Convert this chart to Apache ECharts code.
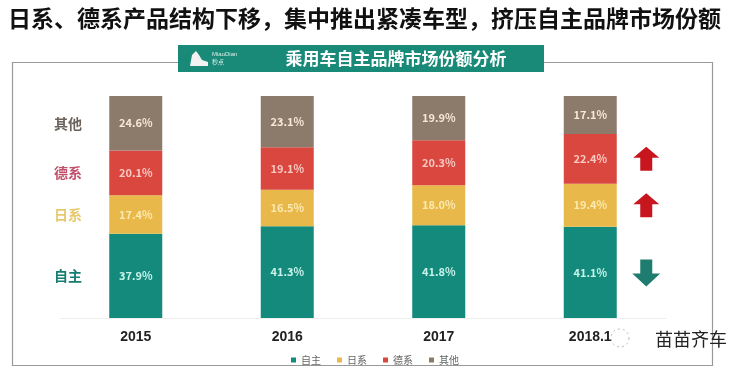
<!DOCTYPE html>
<html><head><meta charset="utf-8">
<script src="https://cdn.jsdelivr.net/npm/echarts@6/dist/echarts.min.js"></script>
<style>html,body{margin:0;padding:0;background:#fff}#c{width:750px;height:374px}</style>
</head><body><div id="c"></div>
<script>
var categories = ['2015', '2016', '2017', '2018.1'];
var seriesNames = ['自主', '日系', '德系', '其他'];
var ziZhu = [37.9, 41.3, 41.8, 41.1];
var riXi = [17.4, 16.5, 18.0, 19.4];
var deXi = [20.1, 19.1, 20.3, 22.4];
var qiTa = [24.6, 23.1, 19.9, 17.1];
var trendArrows = ['down', 'up', 'up', null]; // per series, last period
var mainTitle = '日系、德系产品结构下移，集中推出紧凑车型，挤压自主品牌市场份额';
var panelTitle = '乘用车自主品牌市场份额分析';

var colors = ['#138a7c', '#e8b94a', '#d9473f', '#8c7b6b'];
var labelColors = ['#c8f3ea', '#fbe9b0', '#f9c9c2', '#f6e7d6'];
var sideColors = ['#167d72', '#e7c96c', '#c2506a', '#6b635b'];
var values = [ziZhu, riXi, deXi, qiTa];
var FONT = '"Noto Sans CJK SC", "Noto Sans", sans-serif';

var chart = echarts.init(document.getElementById('c'), null, {renderer: 'canvas'});
var series = values.map(function (arr, i) {
  return {
    name: seriesNames[i], type: 'bar', stack: 'total', barWidth: 53,
    data: arr,
    itemStyle: {color: colors[i]},
    label: {show: true, position: 'inside', color: labelColors[i], fontSize: 11, fontWeight: 'bold',
      fontFamily: FONT,
      formatter: function (p) { return p.value.toFixed(1) + '%'; }}
  };
});

chart.setOption({
  animation: false,
  backgroundColor: '#fff',
  grid: {left: 60, right: 84, top: 96, bottom: 56},
  xAxis: {type: 'category', data: categories,
    axisLine: {show: true, lineStyle: {color: '#eeeeee'}}, axisTick: {show: false},
    axisLabel: {color: '#222', fontSize: 14, fontWeight: 'bold', margin: 12, fontFamily: 'Liberation Sans, Arial, sans-serif'}},
  yAxis: {type: 'value', min: 0, max: 100, show: false},
  legend: {top: 350, left: 'center', icon: 'rect', itemWidth: 5, itemHeight: 5, itemGap: 16,
    textStyle: {color: '#666', fontSize: 10, fontFamily: FONT}, data: seriesNames},
  series: series
});

// decorations positioned from the chart's own scales
var g = [];
g.push({type: 'text', left: 8, top: 7, style: {text: mainTitle, fill: '#111', font: 'bold 23px ' + FONT}});
g.push({type: 'rect', shape: {x: 12.5, y: 62.5, width: 700, height: 303}, style: {fill: 'none', stroke: '#999', lineWidth: 1.2}, z: 1});
g.push({type: 'rect', shape: {x: 178, y: 45, width: 366, height: 27}, style: {fill: '#1a8a78'}, z: 2});
g.push({type: 'polygon', shape: {points: [[190, 66], [192, 55], [196, 51], [199, 55], [202, 60], [208, 62], [208, 66]]}, style: {fill: '#f2f2f2'}, z: 3});
g.push({type: 'text', x: 212, y: 51, style: {text: 'MiaoDian', fill: '#d8efe9', font: '6px sans-serif'}, z: 3});
g.push({type: 'text', x: 212, y: 59, style: {text: '秒点', fill: '#d8efe9', font: '6px ' + FONT}, z: 3});
g.push({type: 'text', x: 396, y: 58.5, style: {text: panelTitle, fill: '#fff', font: 'bold 17px ' + FONT, align: 'center', verticalAlign: 'middle'}, z: 3});

// side labels at middle of each 2015 segment
var cum = 0;
for (var i = 0; i < values.length; i++) {
  var v = values[i][0];
  var p = chart.convertToPixel({xAxisIndex: 0, yAxisIndex: 0}, [0, cum + v / 2]);
  cum += v;
  g.push({type: 'text', x: 68, y: p[1], style: {text: seriesNames[i], fill: sideColors[i], font: 'bold 14px ' + FONT, align: 'center', verticalAlign: 'middle'}, z: 3});
}
// trend arrows beside the last bar
var last = categories.length - 1;
cum = 0;
for (var j = 0; j < values.length; j++) {
  var val = values[j][last];
  var pp = chart.convertToPixel({xAxisIndex: 0, yAxisIndex: 0}, [last, cum + val / 2]);
  cum += val;
  var dir = trendArrows[j];
  if (!dir) continue;
  var cx = pp[0] + 56, cy = pp[1];
  var pts;
  if (dir === 'up') {
    pts = [[cx, cy - 12], [cx + 13, cy - 1], [cx + 6, cy - 1], [cx + 6, cy + 12], [cx - 6, cy + 12], [cx - 6, cy - 1], [cx - 13, cy - 1]];
  } else {
    pts = [[cx, cy + 14], [cx + 14, cy + 1], [cx + 6, cy + 1], [cx + 6, cy - 13], [cx - 6, cy - 13], [cx - 6, cy + 1], [cx - 14, cy + 1]];
  }
  g.push({type: 'polygon', shape: {points: pts}, style: {fill: dir === 'up' ? '#c8161e' : '#1e7d6e'}, z: 3});
}
// watermark
g.push({type: 'circle', shape: {cx: 620, cy: 338, r: 9}, style: {fill: 'none', stroke: '#bbb', lineWidth: 1, lineDash: [2, 3]}, z: 4});
g.push({type: 'text', x: 655, y: 339, style: {text: '苗苗齐车', fill: '#222', font: '18px ' + FONT, verticalAlign: 'middle'}, z: 4});

chart.setOption({graphic: g});
</script></body></html>
